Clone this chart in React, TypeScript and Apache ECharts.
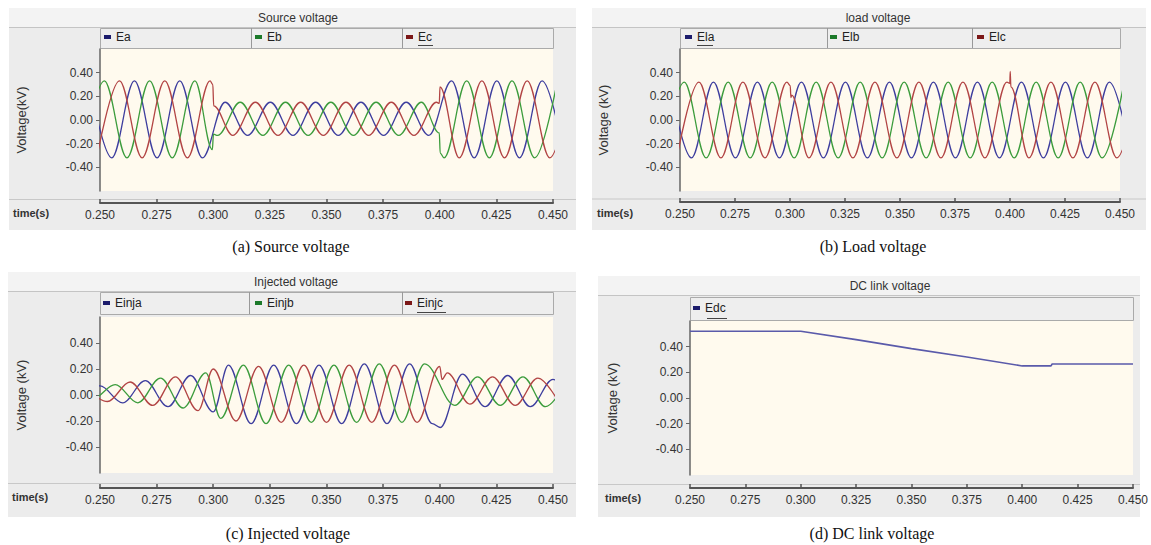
import React, { useEffect, useRef } from 'react';
import * as echarts from 'echarts';

// ---------------- data ----------------
const xTicks = [0.25, 0.275, 0.3, 0.325, 0.35, 0.375, 0.4, 0.425, 0.45];
const yTicks = [-0.4, -0.2, 0, 0.2, 0.4];

// extremum times (s) of each phase — source & load panels
const tA = [0.2452, 0.2552, 0.2652, 0.2752, 0.2852, 0.2952, 0.3052, 0.3152, 0.3252, 0.3352, 0.3452, 0.3552, 0.3652, 0.3752, 0.3852, 0.3952, 0.4052, 0.4152, 0.4252, 0.4352, 0.4452, 0.4552];
const tB = [0.2419, 0.2519, 0.2619, 0.2719, 0.2819, 0.2919, 0.3019, 0.3119, 0.3219, 0.3319, 0.3419, 0.3519, 0.3619, 0.3719, 0.3819, 0.3919, 0.4019, 0.4119, 0.4219, 0.4319, 0.4419, 0.4519];
const tC = [0.2486, 0.2586, 0.2686, 0.2786, 0.2886, 0.2986, 0.3086, 0.3186, 0.3286, 0.3386, 0.3486, 0.3586, 0.3686, 0.3786, 0.3886, 0.3986, 0.4086, 0.4186, 0.4286, 0.4386, 0.4486, 0.4586];

// (a) source voltage, kV at the extrema
const srcEa = [0.33, -0.32, 0.33, -0.32, 0.33, -0.32, 0.15, -0.13, 0.15, -0.13, 0.15, -0.13, 0.15, -0.13, 0.15, -0.13, 0.33, -0.32, 0.33, -0.32, 0.33, -0.32];
const srcEb = [-0.32, 0.33, -0.32, 0.33, -0.32, 0.33, -0.13, 0.15, -0.13, 0.15, -0.13, 0.15, -0.13, 0.15, -0.13, 0.15, -0.32, 0.33, -0.32, 0.33, -0.32, 0.33];
const srcEc = [-0.32, 0.33, -0.32, 0.33, -0.32, 0.33, -0.13, 0.15, -0.13, 0.15, -0.13, 0.15, -0.13, 0.15, -0.13, 0.15, -0.32, 0.33, -0.32, 0.33, -0.32, 0.33];
const srcEbJumps = [[0.2996, -0.25], [0.3001, -0.12], [0.3998, -0.11], [0.4002, -0.28]];
const srcEcJumps = [[0.2998, 0.30], [0.3002, 0.12], [0.3998, 0.14], [0.4001, 0.28]];

// (b) load voltage
const ldEla = [0.32, -0.32, 0.32, -0.32, 0.32, -0.32, 0.32, -0.32, 0.32, -0.32, 0.32, -0.32, 0.32, -0.32, 0.32, -0.32, 0.32, -0.32, 0.32, -0.32, 0.32, -0.32];
const ldElb = [-0.32, 0.32, -0.32, 0.32, -0.32, 0.32, -0.32, 0.32, -0.32, 0.32, -0.32, 0.32, -0.32, 0.32, -0.32, 0.32, -0.32, 0.32, -0.32, 0.32, -0.32, 0.32];
const ldElc = [-0.32, 0.32, -0.32, 0.32, -0.32, 0.32, -0.32, 0.32, -0.32, 0.32, -0.32, 0.32, -0.32, 0.32, -0.32, 0.32, -0.32, 0.32, -0.32, 0.32, -0.32, 0.32];
const ldElcJumps = [[0.3001, 0.29], [0.3004, 0.19], [0.3008, 0.21], [0.3999, 0.31], [0.4001, 0.41], [0.4004, 0.28]];

// (c) injected voltage: extremum times and values per phase
const tInjA = [0.2400, 0.2500, 0.2600, 0.2700, 0.2800, 0.2900, 0.3000, 0.3067, 0.3167, 0.3267, 0.3367, 0.3467, 0.3567, 0.3667, 0.3767, 0.3867, 0.3967, 0.4002, 0.4100, 0.4200, 0.4300, 0.4400, 0.4500, 0.4600];
const injEa = [-0.03, 0.07, -0.06, 0.11, -0.09, 0.15, -0.13, 0.23, -0.22, 0.23, -0.22, 0.23, -0.22, 0.24, -0.22, 0.24, -0.22, -0.25, 0.16, -0.09, 0.15, -0.09, 0.12, -0.09];
const tInjB = [0.2367, 0.2467, 0.2567, 0.2667, 0.2767, 0.2867, 0.2967, 0.3033, 0.3133, 0.3233, 0.3333, 0.3433, 0.3533, 0.3633, 0.3733, 0.3833, 0.3933, 0.4067, 0.4167, 0.4267, 0.4367, 0.4467, 0.4567];
const injEb = [0.05, -0.03, 0.08, -0.06, 0.13, -0.10, 0.17, -0.18, 0.23, -0.22, 0.23, -0.21, 0.23, -0.21, 0.24, -0.21, 0.24, -0.08, 0.14, -0.08, 0.14, -0.09, 0.13];
const tInjC = [0.2433, 0.2533, 0.2633, 0.2733, 0.2833, 0.2933, 0.3000, 0.3100, 0.3200, 0.3300, 0.3400, 0.3500, 0.3600, 0.3700, 0.3800, 0.3900, 0.4000, 0.4010, 0.4033, 0.4133, 0.4233, 0.4333, 0.4433, 0.4533];
const injEc = [0.06, -0.05, 0.10, -0.08, 0.14, -0.12, 0.20, -0.20, 0.22, -0.21, 0.23, -0.21, 0.23, -0.21, 0.23, -0.21, 0.22, 0.12, 0.17, -0.07, 0.14, -0.08, 0.13, -0.08];

// (d) DC link voltage
const dcT = [0.25, 0.30, 0.325, 0.35, 0.375, 0.40, 0.413, 0.4135, 0.45];
const dcV = [0.52, 0.52, 0.455, 0.385, 0.32, 0.25, 0.25, 0.265, 0.265];

const panelTitles = ['Source voltage', 'load voltage', 'Injected voltage', 'DC link voltage'];
const captions = ['(a) Source voltage', '(b) Load voltage', '(c) Injected voltage', '(d) DC link voltage'];
const yNames = ['Voltage(kV)', 'Voltage (kV)', 'Voltage (kV)', 'Voltage (kV)'];
const legendNames = [['Ea', 'Eb', 'Ec'], ['Ela', 'Elb', 'Elc'], ['Einja', 'Einjb', 'Einjc'], ['Edc']];

// ---------------- styling / layout ----------------
const FONT = '"Liberation Sans", Arial, sans-serif';
const SERIF = '"Liberation Serif", "Times New Roman", serif';
const LINE = ['#3e3e9e', '#3c9c3c', '#b24444'];
const SWATCH = ['#1c1c6c', '#1c7a2a', '#7c1818'];
const DC_LINE = '#5a5aaa';

const layout = [
  { bx: 9, by: 8, bw: 567, bh: 222, th: 19, tx: 298, ty: 17.5, lx: 100, ly: 28, lw: 453, lh: 20, seps: [251, 402], legX: [104, 255, 406], legY: 31, gl: 100, gt: 49, gw: 453, gh: 142, off: 12, sepY: 199.5, nx: 21, ny: 120, tsx: 13, tsy: 213, cx: 291, cy: 246 },
  { bx: 592, by: 8, bw: 554, bh: 222, th: 19, tx: 878, ty: 17.5, lx: 680, ly: 28, lw: 440, lh: 20, seps: [827, 972], legX: [685, 830, 977], legY: 31, gl: 680, gt: 49, gw: 440, gh: 142, off: 11, sepY: 199, nx: 603, ny: 120, tsx: 597, tsy: 213, cx: 873, cy: 246 },
  { bx: 8, by: 272, bw: 568, bh: 245, th: 19, tx: 296, ty: 281.5, lx: 100, ly: 292, lw: 453, lh: 22, seps: [249, 402], legX: [103, 255, 405], legY: 297, gl: 100, gt: 317, gw: 453, gh: 156, off: 15, sepY: 483.5, nx: 21, ny: 395, tsx: 12, tsy: 497, cx: 288, cy: 533 },
  { bx: 598, by: 276, bw: 542, bh: 241, th: 19, tx: 890, ty: 285.5, lx: 690, ly: 297, lw: 443, lh: 23, seps: [], legX: [693], legY: 302, gl: 690, gt: 321, gw: 443, gh: 154, off: 13, sepY: 484.5, nx: 612, ny: 398, tsx: 605, tsy: 498, cx: 872, cy: 533 },
];
const underlined = [[2, 418, 433, 45], [0, 697, 713, 45], [2, 417, 446, 312], [0, 707, 727, 318]];

const pairs = (t: number[], v: number[], extra: number[][] = []) =>
  t.map((x, i) => [x, v[i]]).concat(extra).sort((a, b) => a[0] - b[0]);

function buildOption() {
  const grid: any[] = [];
  const xAxis: any[] = [];
  const yAxis: any[] = [];
  const legend: any[] = [];
  const graphic: any[] = [];

  layout.forEach((p, i) => {
    grid.push({ left: p.gl, top: p.gt, width: p.gw, height: p.gh, containLabel: false });
    xAxis.push({
      type: 'value', gridIndex: i, min: 0.25, max: 0.45, offset: p.off, position: 'bottom',
      axisLine: { show: true, onZero: false, lineStyle: { color: '#555', width: 2 } },
      axisTick: { show: true, inside: true, length: 4, customValues: xTicks, lineStyle: { color: '#555', width: 1.5 } },
      axisLabel: { customValues: xTicks, formatter: (v: number) => v.toFixed(3), fontSize: 12, color: '#333', fontFamily: FONT, margin: 6 },
      splitLine: { show: false },
    });
    yAxis.push({
      type: 'value', gridIndex: i, min: -0.6, max: 0.6, position: 'left',
      axisLine: { show: true, onZero: false, lineStyle: { color: '#666', width: 1.5 } },
      axisTick: { show: true, length: 4, customValues: yTicks, lineStyle: { color: '#666' } },
      axisLabel: { customValues: yTicks, formatter: (v: number) => v.toFixed(2), fontSize: 12, color: '#333', fontFamily: FONT, margin: 7 },
      splitLine: { show: false },
    });
    legendNames[i].forEach((name, k) => {
      legend.push({
        data: [{ name, itemStyle: { color: SWATCH[k] } }], left: p.legX[k], top: p.legY, padding: 0,
        icon: 'rect', itemWidth: 7, itemHeight: 4, selectedMode: false,
        textStyle: { fontSize: 12, color: '#222', fontFamily: FONT },
      });
    });
    // decorations
    graphic.push({ type: 'rect', z: -10, silent: true, shape: { x: p.bx, y: p.by, width: p.bw, height: p.bh }, style: { fill: '#ececec' } });
    graphic.push({ type: 'rect', z: -9, silent: true, shape: { x: p.bx, y: p.by, width: p.bw, height: p.th }, style: { fill: '#f3f3f3' } });
    graphic.push({ type: 'line', z: -9, silent: true, shape: { x1: p.bx, y1: p.by + p.th + 0.5, x2: p.bx + p.bw, y2: p.by + p.th + 0.5 }, style: { stroke: '#c4c4c4', lineWidth: 1 } });
    graphic.push({ type: 'rect', z: -9, silent: true, shape: { x: p.lx + 0.5, y: p.ly + 0.5, width: p.lw, height: p.lh }, style: { fill: '#eeeeee', stroke: '#aaaaaa', lineWidth: 1 } });
    p.seps.forEach((sx) => {
      graphic.push({ type: 'line', z: -8, silent: true, shape: { x1: sx + 0.5, y1: p.ly, x2: sx + 0.5, y2: p.ly + p.lh }, style: { stroke: '#999999', lineWidth: 1 } });
    });
    graphic.push({ type: 'rect', z: -9, silent: true, shape: { x: p.gl, y: p.gt, width: p.gw, height: p.gh }, style: { fill: '#fffaee' } });
    graphic.push({ type: 'line', z: -9, silent: true, shape: { x1: p.bx, y1: p.sepY, x2: p.bx + p.bw, y2: p.sepY }, style: { stroke: '#c8c8c8', lineWidth: 1 } });
    graphic.push({ type: 'text', z: 10, silent: true, x: p.tx, y: p.ty, style: { text: panelTitles[i], align: 'center', verticalAlign: 'middle', font: `12px ${FONT}`, fill: '#333' } });
    graphic.push({ type: 'text', z: 10, silent: true, x: p.nx, y: p.ny, rotation: Math.PI / 2, style: { text: yNames[i], align: 'center', verticalAlign: 'middle', font: `13px ${FONT}`, fill: '#333' } });
    graphic.push({ type: 'text', z: 10, silent: true, x: p.tsx, y: p.tsy, style: { text: 'time(s)', align: 'left', verticalAlign: 'middle', font: `bold 11px ${FONT}`, fill: '#333' } });
    graphic.push({ type: 'text', z: 10, silent: true, x: p.cx, y: p.cy, style: { text: captions[i], align: 'center', verticalAlign: 'middle', font: `16px ${SERIF}`, fill: '#111' } });
  });
  underlined.forEach(([, x1, x2, y]) => {
    graphic.push({ type: 'line', z: 10, silent: true, shape: { x1, y1: y + 0.5, x2, y2: y + 0.5 }, style: { stroke: '#444', lineWidth: 1 } });
  });

  const wave = (name: string, idx: number, data: number[][], color: string) => ({
    type: 'line', name, xAxisIndex: idx, yAxisIndex: idx, data, showSymbol: false, symbol: 'none',
    smooth: 0.36, smoothMonotone: 'x', clip: true, silent: true,
    lineStyle: { color, width: 1.3 }, itemStyle: { color }, emphasis: { disabled: true },
  });

  const series: any[] = [
    wave('Ea', 0, pairs(tA, srcEa), LINE[0]),
    wave('Eb', 0, pairs(tB, srcEb, srcEbJumps), LINE[1]),
    wave('Ec', 0, pairs(tC, srcEc, srcEcJumps), LINE[2]),
    wave('Ela', 1, pairs(tA, ldEla), LINE[0]),
    wave('Elb', 1, pairs(tB, ldElb), LINE[1]),
    wave('Elc', 1, pairs(tC, ldElc, ldElcJumps), LINE[2]),
    wave('Einja', 2, pairs(tInjA, injEa), LINE[0]),
    wave('Einjb', 2, pairs(tInjB, injEb), LINE[1]),
    wave('Einjc', 2, pairs(tInjC, injEc), LINE[2]),
    {
      type: 'line', name: 'Edc', xAxisIndex: 3, yAxisIndex: 3, data: pairs(dcT, dcV), showSymbol: false, symbol: 'none',
      clip: true, silent: true, lineStyle: { color: DC_LINE, width: 1.6 }, itemStyle: { color: DC_LINE }, emphasis: { disabled: true },
    },
  ];

  return {
    animation: false,
    backgroundColor: '#ffffff',
    textStyle: { fontFamily: FONT },
    grid, xAxis, yAxis, legend, graphic, series,
  };
}

export default function App() {
  const ref = useRef<HTMLDivElement>(null);
  useEffect(() => {
    if (!ref.current) return;
    const chart = echarts.init(ref.current, undefined, { renderer: 'svg' });
    chart.setOption(buildOption() as any);
    return () => chart.dispose();
  }, []);
  return <div ref={ref} style={{ position: 'absolute', left: 0, top: 0, width: 1151, height: 545 }} />;
}
